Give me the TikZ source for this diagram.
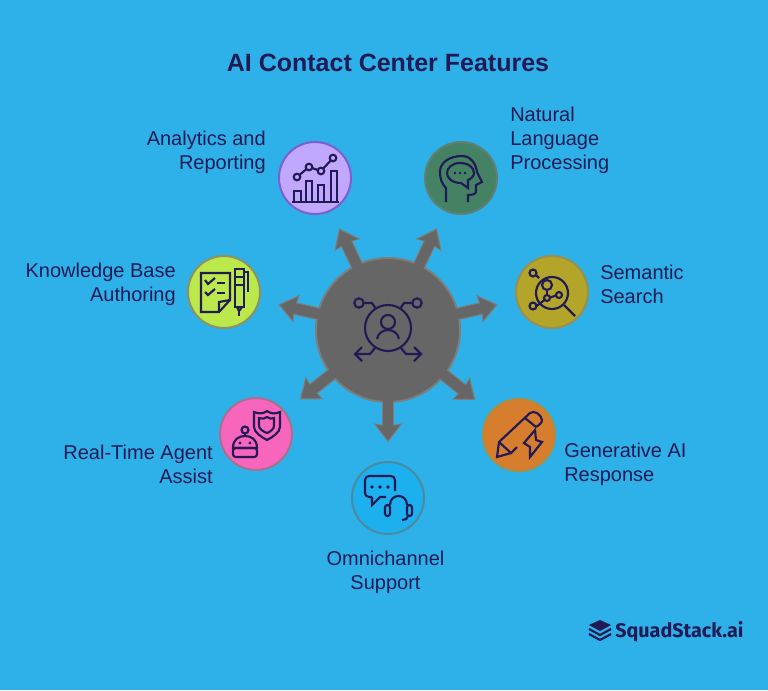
\documentclass[tikz,border=0pt]{standalone}
\usepackage{fontspec}
\setmainfont{Liberation Sans}
\newfontfamily\logofont{Fira Sans}
\usetikzlibrary{arrows.meta}
\definecolor{bgblue}{HTML}{2DB1E8}
\definecolor{inkblue}{HTML}{221A55}
\definecolor{hubgray}{HTML}{666666}
\definecolor{hubedge}{HTML}{7D7D7D}
\definecolor{cfan}{HTML}{C0A8FF}
\definecolor{cfane}{HTML}{7D5FD0}
\definecolor{cfnl}{HTML}{458264}
\definecolor{cfnle}{HTML}{5F7F78}
\definecolor{cfse}{HTML}{B3A52A}
\definecolor{cfsee}{HTML}{9A8F4F}
\definecolor{cfge}{HTML}{D67E2E}
\definecolor{cfgee}{HTML}{B48B3D}
\definecolor{cfom}{HTML}{1CB0EE}
\definecolor{cfome}{HTML}{4C8AA0}
\definecolor{cfag}{HTML}{F765BD}
\definecolor{cfage}{HTML}{A8708F}
\definecolor{cfkb}{HTML}{BBE84A}
\definecolor{cfkbe}{HTML}{8D9160}
\def\drawhub{
   \draw (0,-2) circle (23);
   \draw (0,-8) circle (7);
   \draw (-11,9) .. controls (-9,-3) and (9,-3) .. (11,9);
   \draw (-29,-27) circle (4.7);
   \draw (29,-27) circle (4.7);
   \draw (-24,-27) -- (-16,-27) -- (-12,-21);
   \draw (24,-27) -- (16,-27) -- (12,-21);
   \draw (-13,18) -- (-18,24) -- (-33,24);
   \draw (13,18) -- (18,24) -- (33,24);
   \draw (-26,17) -- (-33,24) -- (-26,31);
   \draw (26,17) -- (33,24) -- (26,31);
 }
\def\drawanalytics{
   \draw (-23,24) -- (24,24);
   \draw (-21,24) |- (-14,13) -- (-14,24);
   \draw (-9,24) |- (-3,3) -- (-3,24);
   \draw (3,24) |- (9,7) -- (9,24);
   \draw (16,24) |- (22,-7) -- (22,24);
   \foreach \x/\y in {-18/-1,-6/-11,6/-7,18/-20}
     \draw (\x,\y) circle (3.3);
   \draw (-15.5,-3) -- (-8.5,-9);
   \draw (-2.8,-10) -- (2.8,-8);
   \draw (8.3,-9.5) -- (15.7,-17.5);
 }
\def\drawnlp{
   \draw (-15,24) -- (-15,10) .. controls (-19,6) and (-21,1) .. (-21,-6)
      .. controls (-21,-16) and (-11,-22) .. (1,-22)
      .. controls (10,-22) and (15,-14) .. (16,-6) -- (21,4) -- (15,7) -- (15,13)
      .. controls (15,16) and (12,17) .. (7,17) -- (7,24);
   \draw (-1,-15) .. controls (8,-15) and (13,-10) .. (13,-5)
      .. controls (13,-2) and (10,1) .. (7,2) -- (7,10) -- (0,5)
      .. controls (-9,5) and (-14,0) .. (-14,-5)
      .. controls (-14,-10) and (-9,-15) .. (-1,-15);
   \foreach \x in {-6,-1,4}
     \fill[icon dot] (\x,-5) circle (1.3);
 }
\def\drawsemantic{
   \draw (0,1) circle (16);
   \draw (12,13) -- (23,24);
   \draw (-5,-7) circle (5);
   \draw (7,3) circle (3);
   \draw (-5,6) circle (3);
   \draw (-5,-2) -- (-5,3);
   \draw (-2,5.5) -- (4,3.5);
   \draw (-19,14) circle (3.5);
   \draw (-15.5,14) -- (-12,11.5) -- (-7.5,8);
   \draw (-19,-19) circle (3.5);
   \draw (-16,-17) -- (-13,-14);
 }
\def\drawgenai{
   \draw (-8,18) -- (-22,22) -- (-20,7) -- (11,-22)
      .. controls (15,-25) and (22,-21) .. (23,-15)
      .. controls (23,-12) and (20,-10) .. (17,-8);
   \draw (-2,12) -- (-8,18) -- (-20,7);
   \draw (6,-17) -- (17,-8);
   \draw (16,-5) -- (5,8) -- (11,12) -- (11,22) -- (23,7) -- (17,5) -- cycle;
 }
\def\drawomni{
   \draw[rounded corners=3pt] (-16,-1) -- (-23,-1) -- (-23,-22)
      -- (7,-22) -- (7,-7);
   \draw (-16,-1) -- (-16,7) -- (-8,-1) -- (-2,-1);
   \foreach \x in {-16,-8,0}
     \fill[icon dot] (\x,-11) circle (1.9);
   \draw (2,7) .. controls (2,-5) and (19,-5) .. (19,7);
   \draw[rounded corners=1.8pt] (-3,7) rectangle (2,18);
   \draw[rounded corners=1.8pt] (19,7) rectangle (24,18);
   \draw (20,18) .. controls (20,21) and (17,22) .. (14,22);
 }
\def\drawagent{
   \draw (-2,-22) .. controls (3,-20) and (7,-20) .. (11,-23)
      .. controls (15,-20) and (19,-20) .. (24,-22) -- (24,-7)
      .. controls (24,-2) and (17,3) .. (11,6)
      .. controls (5,3) and (-2,-2) .. (-2,-7) -- cycle;
   \draw (3,-16) .. controls (6,-15) and (9,-15) .. (11,-17)
      .. controls (13,-15) and (16,-15) .. (18,-16) -- (18,-8)
      .. controls (18,-5) and (14,-2) .. (11,-1)
      .. controls (8,-2) and (3,-5) .. (3,-8) -- cycle;
   \draw (-11,-4) circle (3.5);
   \draw (-11,-0.5) -- (-11,2);
   \draw (-23,14) .. controls (-23,5) and (-17,2) .. (-11,2)
      .. controls (-5,2) and (1,5) .. (1,14) -- cycle;
   \draw[rounded corners=2pt] (-23,14) rectangle (1,23);
   \fill[icon dot] (-16,9) circle (1.6);
   \fill[icon dot] (-6,9) circle (1.6);
 }
\def\drawbase{
   \draw (-5,20) -- (-23,20) -- (-23,-19) -- (6,-19) -- (6,8) -- cycle;
   \draw (-5,20) -- (-5,10) -- (6,8);
   \draw (-19,-12) -- (-16,-8) -- (-9,-14);
   \draw (-19,0) -- (-16,3) -- (-9,-3);
   \draw (-7,-9) -- (1,-9);
   \draw (-7,1) -- (1,1);
   \draw (11,-23) rectangle (20,15);
   \draw (11,-15) -- (20,-15);
   \draw (11,-7) -- (20,-7);
   \draw (20,-20) -- (24,-20) -- (24,0);
   \draw (13,15) -- (15,19) -- (18,15);
   \draw (15,19) -- (15,24);
 }
\tikzset{
  icon paths/.style = {
    every path/.style = {draw=inkblue, line width=1.6pt}
  },
  icon dot/.style = {draw=none, fill=inkblue},
  % Feature circles
  feat/.style 2 args = {
    circle, fill=#1, draw=#2,
    line width=1.5pt,
    minimum size=54pt, inner sep=0pt
  },
  hubnode/.style = {
    circle, fill=hubgray, draw=hubedge,
    line width=1.5pt,
    minimum size=108pt, inner sep=0pt
  },
  % Labels
  flabel/.style = {
    text=inkblue, inner sep=0pt,
    font=\fontsize{15}{18}\selectfont
  },
  rlabel/.style = {flabel, align=right, anchor=east},
  llabel/.style = {flabel, align=left, anchor=west},
  % Arrows
  feat edge/.style  = {
    hubedge, line width=9.5pt, shorten >=14pt,
    -{Stealth[length=14pt,width=21pt,inset=1.5pt]}
  },
  feat core/.style  = {
    hubgray, line width=7.8pt, shorten >=15.6pt, shorten <=-2pt,
    -{Stealth[length=11.5pt,width=17.5pt,inset=1.2pt]}
  },
}
\begin{document}
\begin{tikzpicture}[x=0.75pt, y=-0.75pt]
	\useasboundingbox (0,0) rectangle (768,690);
	\fill[bgblue] (0,0) rectangle (768,690);

	\node[text=inkblue, font=\bfseries\fontsize{18.75}{22}\selectfont] (title) at (388,62.5)
		{AI Contact Center Features};

	\node[hubnode] (hub) at (388,330) {};
	\node[feat={cfan}{cfane}] (analytics) at (315,178) {};
	\node[feat={cfnl}{cfnle}] (nlp) at (461,178) {};
	\node[feat={cfse}{cfsee}] (semantic) at (552,292) {};
	\node[feat={cfge}{cfgee}] (genai) at (519,435) {};
	\node[feat={cfom}{cfome}] (omni) at (388,498) {};
	\node[feat={cfag}{cfage}] (agent) at (256,434) {};
	\node[feat={cfkb}{cfkbe}] (base) at (224,292) {};

	\foreach \feat in {analytics,nlp,semantic,genai,omni,agent,base} {
		\draw[feat edge] (hub) -- (\feat);
		\draw[feat core] (hub) -- (\feat);
	}

	\begin{scope}[shift={(hub)}, icon paths] \drawhub \end{scope}
	\begin{scope}[shift={(analytics)}, icon paths] \drawanalytics \end{scope}
	\begin{scope}[shift={(nlp)}, icon paths] \drawnlp \end{scope}
	\begin{scope}[shift={(semantic)}, icon paths] \drawsemantic \end{scope}
	\begin{scope}[shift={(genai)}, icon paths] \drawgenai \end{scope}
	\begin{scope}[shift={(omni)}, icon paths] \drawomni \end{scope}
	\begin{scope}[shift={(agent)}, icon paths] \drawagent \end{scope}
	\begin{scope}[shift={(base)}, icon paths] \drawbase \end{scope}

	\node[rlabel] (analyticstxt) at (266,152) {Analytics and\\Reporting};
	\node[llabel] (nlptxt) at (510,140) {Natural\\Language\\Processing};
	\node[llabel] (semantictxt) at (600,284) {Semantic\\Search};
	\node[llabel] (genaitxt) at (564,464) {Generative AI\\Response};
	\node[flabel, align=center] (omnitxt) at (385.5,572) {Omnichannel\\Support};
	\node[rlabel] (agenttxt) at (213,464) {Real-Time Agent\\Assist};
	\node[rlabel] (basetxt) at (176,284) {Knowledge Base\\Authoring};

	% logo
	\fill[inkblue] (589,625) -- (600,620) -- (611,625) -- (600,631) -- cycle;
	\draw[inkblue, line width=1.6pt] (589,629) -- (600,635) -- (611,629);
	\draw[inkblue, line width=1.6pt] (589,634) -- (600,640) -- (611,634);
	\node[text=inkblue, anchor=west, inner sep=0pt, font=\logofont\bfseries\fontsize{14.8}{17}\selectfont] (logo) at (615,631.5) {SquadStack.ai};
\end{tikzpicture}
\end{document}
